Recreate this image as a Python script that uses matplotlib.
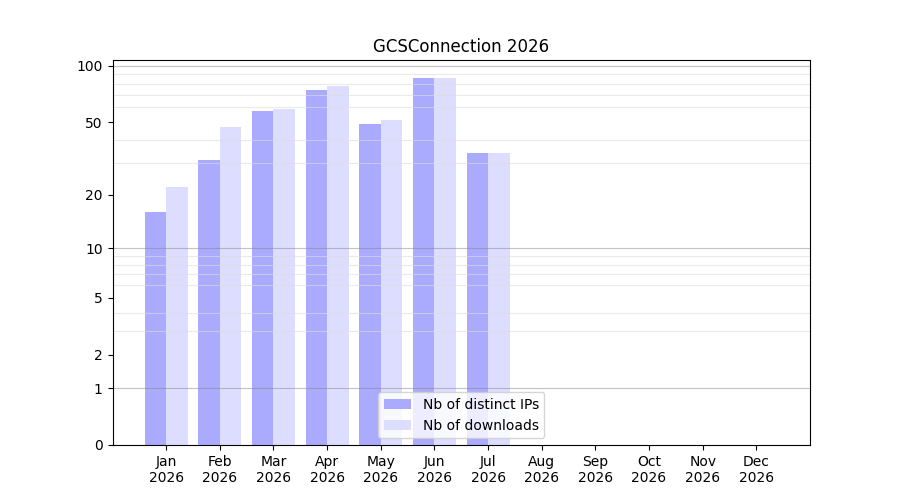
import numpy as np
import matplotlib
matplotlib.use("Agg")
import matplotlib.pyplot as plt

months = ["Jan", "Feb", "Mar", "Apr", "May", "Jun", "Jul", "Aug", "Sep", "Oct", "Nov", "Dec"]
year = "2026"
ips = [16, 31, 57, 74, 49, 86, 34]
downloads = [22, 47, 59, 78, 51, 86, 34]


def fwd(x):
    return np.log10(1 + np.clip(x, 0, None))


def inv(y):
    return 10 ** y - 1


fig, ax = plt.subplots(figsize=(9, 5), dpi=100)
ax.set_yscale("function", functions=(fwd, inv))

x = np.arange(len(ips))
w = 0.4
ax.bar(x - w / 2, ips, width=w, color="#aaaaff", label="Nb of distinct IPs", zorder=1)
ax.bar(x + w / 2, downloads, width=w, color="#ddddff", label="Nb of downloads", zorder=1)

ax.set_ylim(0, 107.5)
ax.set_xlim(-1, 12)
ax.set_xticks(np.arange(12))
ax.set_xticklabels([f"{m}\n{year}" for m in months])

yt = [0, 1, 2, 5, 10, 20, 50, 100]
ax.set_yticks(yt)
ax.set_yticklabels([str(v) for v in yt])
minor = [v for v in list(range(2, 10)) + list(range(20, 100, 10))]
ax.set_yticks(minor, minor=True)
ax.tick_params(axis="y", which="minor", length=0)
ax.grid(axis="y", which="minor", color="#dddddd", alpha=0.6, linewidth=0.8, zorder=2)
for v in [1, 10, 100]:
    ax.axhline(v, color="#888888", alpha=0.5, linewidth=0.8, zorder=2)

ax.set_title("GCSConnection 2026")
ax.legend(loc="lower center")

fig.savefig("out.png")
